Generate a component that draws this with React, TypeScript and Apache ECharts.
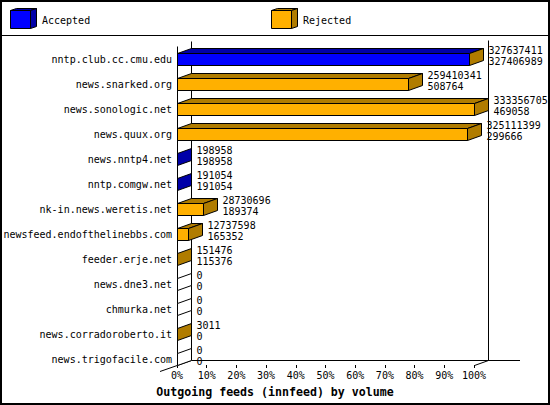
import React, { useEffect, useRef } from 'react';
import * as echarts from 'echarts';

// innfeed outgoing feeds: offered and accepted volume per peer
const hosts = [
  'nntp.club.cc.cmu.edu',
  'news.snarked.org',
  'news.sonologic.net',
  'news.quux.org',
  'news.nntp4.net',
  'nntp.comgw.net',
  'nk-in.news.weretis.net',
  'newsfeed.endofthelinebbs.com',
  'feeder.erje.net',
  'news.dne3.net',
  'chmurka.net',
  'news.corradoroberto.it',
  'news.trigofacile.com',
];
const offered = [
  327637411, 259410341, 333356705, 325111399, 198958, 191054, 28730696, 12737598, 151476, 0, 0, 3011, 0,
];
const accepted = [
  327406989, 508764, 469058, 299666, 198958, 191054, 189374, 165352, 115376, 0, 0, 0, 0,
];
const legendNames = ['Accepted', 'Rejected'];

const BLUE = '#0000ff';
const BLUE_DARK = '#0000a8';
const ORANGE = '#ffb000';
const ORANGE_DARK = '#b07c00';
const FONT = '"DejaVu Sans Mono", monospace';

// plot geometry (front plane and 3d depth)
const LEFT = 177;
const RIGHT = 474;
const TOP = 46.5;
const ROWS_H = 325;
const FLOOR = 365;
const DX = 14;
const DY = -5;
const HALF = 6;

const App = () => {
  const chartRef = useRef<HTMLDivElement>(null);

  useEffect(() => {
    if (!chartRef.current) return;
    document.body.style.margin = '0';
    const chart = echarts.init(chartRef.current, undefined, { renderer: 'svg' });

    const maxOff = Math.max(...offered);
    const data = hosts.map((_, i) => [
      i,
      (offered[i] / maxOff) * 100,
      (accepted[i] / maxOff) * 100,
      offered[i],
      accepted[i],
    ]);

    const line = (x1: number, y1: number, x2: number, y2: number) => ({
      type: 'line',
      z: 1,
      shape: { x1, y1, x2, y2 },
      style: { stroke: '#000', lineWidth: 1 },
    });

    const cube = (x: number, y: number, front: string, dark: string) => {
      const w = 20, h = 18, dx = 6, dy = -2;
      return [
        { type: 'rect', shape: { x, y, width: w, height: h }, style: { fill: front, stroke: '#000', lineWidth: 1 } },
        {
          type: 'polygon',
          shape: { points: [[x, y], [x + dx, y + dy], [x + w + dx, y + dy], [x + w, y]] },
          style: { fill: dark, stroke: '#000', lineWidth: 1 },
        },
        {
          type: 'polygon',
          shape: { points: [[x + w, y], [x + w + dx, y + dy], [x + w + dx, y + h + dy], [x + w, y + h]] },
          style: { fill: dark, stroke: '#000', lineWidth: 1 },
        },
      ];
    };

    const renderItem = (params: any, api: any) => {
      const i = api.value(0);
      const off = api.value(3);
      const acc = api.value(4);
      const [cx0, yc] = api.coord([0, i]);
      let x0 = Math.round(cx0) + 0.5;
      let xa = Math.round(api.coord([api.value(2), i])[0]) + 0.5;
      let xe = Math.round(api.coord([api.value(1), i])[0]) + 0.5;
      if (xa - x0 < 1) xa = x0;
      if (xe - xa < 1) xa = xe;
      const yt = Math.round(yc - HALF) + 0.5;
      const yb = yt + HALF * 2;
      const children: any[] = [];
      const seg = (xs: number, xf: number, front: string, dark: string) => {
        if (xf - xs < 1) return;
        children.push({
          type: 'rect',
          shape: { x: xs, y: yt, width: xf - xs, height: yb - yt },
          style: { fill: front, stroke: '#000', lineWidth: 1 },
        });
        children.push({
          type: 'polygon',
          shape: { points: [[xs, yt], [xs + DX, yt + DY], [xf + DX, yt + DY], [xf, yt]] },
          style: { fill: dark, stroke: '#000', lineWidth: 1 },
        });
      };
      seg(x0, xa, BLUE, BLUE_DARK);
      seg(xa, xe, ORANGE, ORANGE_DARK);
      const sideFill = off - acc > 0 ? ORANGE_DARK : acc > 0 ? BLUE_DARK : '#fff';
      children.push({
        type: 'polygon',
        shape: { points: [[xe, yt], [xe + DX, yt + DY], [xe + DX, yb + DY], [xe, yb]] },
        style: { fill: sideFill, stroke: '#000', lineWidth: 1 },
      });
      const tx = xe + DX + 5;
      children.push({
        type: 'text',
        style: { text: String(off), x: tx, y: yc - 8.5, align: 'left', verticalAlign: 'middle', font: `10px ${FONT}`, fill: '#000' },
      });
      children.push({
        type: 'text',
        style: { text: String(acc), x: tx, y: yc + 2.5, align: 'left', verticalAlign: 'middle', font: `10px ${FONT}`, fill: '#000' },
      });
      return { type: 'group', children };
    };

    const option: any = {
      animation: false,
      backgroundColor: '#fff',
      title: {
        text: 'Outgoing feeds (innfeed) by volume',
        left: 'center',
        top: 386,
        padding: 0,
        textStyle: { fontFamily: FONT, fontSize: 11.6, fontWeight: 'bold', color: '#000' },
      },
      grid: { left: LEFT, top: TOP, width: RIGHT - LEFT, height: ROWS_H, containLabel: false },
      xAxis: {
        type: 'value',
        min: 0,
        max: 100,
        interval: 10,
        offset: FLOOR - (TOP + ROWS_H),
        axisLine: { show: false },
        axisTick: { show: true, length: 3, lineStyle: { color: '#000', width: 1 } },
        axisLabel: { formatter: '{value}%', margin: 5, fontFamily: FONT, fontSize: 10, color: '#000' },
        splitLine: { show: false },
      },
      yAxis: {
        type: 'category',
        data: hosts,
        inverse: true,
        axisLine: { show: false },
        axisTick: { show: false },
        splitLine: { show: false },
        axisLabel: { margin: 5, fontFamily: FONT, fontSize: 10, color: '#000' },
      },
      graphic: [
        { type: 'rect', z: 1, shape: { x: 1, y: 1, width: 548, height: 403 }, style: { fill: 'none', stroke: '#000', lineWidth: 2 } },
        line(0, 35.5, 550, 35.5),
        ...cube(10.5, 10.5, BLUE, BLUE_DARK),
        { type: 'text', style: { text: legendNames[0], x: 42, y: 20, verticalAlign: 'middle', font: `10px ${FONT}`, fill: '#000' } },
        ...cube(271.5, 10.5, ORANGE, ORANGE_DARK),
        { type: 'text', style: { text: legendNames[1], x: 303, y: 20, verticalAlign: 'middle', font: `10px ${FONT}`, fill: '#000' } },
        // 3d frame: front wall edge, back wall, floor edges
        line(LEFT + 0.5, TOP, LEFT + 0.5, FLOOR + 0.5),
        line(LEFT + DX + 0.5, TOP + DY, LEFT + DX + 0.5, FLOOR + DY + 0.5),
        line(RIGHT + DX + 0.5, TOP + DY - 1, RIGHT + DX + 0.5, FLOOR + DY + 0.5),
        line(LEFT + DX + 0.5, FLOOR + DY + 0.5, 520, FLOOR + DY + 0.5),
        line(160, FLOOR + 6.5, LEFT + DX + 0.5, FLOOR + DY + 0.5),
        line(RIGHT + 0.5, FLOOR + 0.5, RIGHT + DX + 0.5, FLOOR + DY + 0.5),
      ],
      series: [
        {
          type: 'custom',
          clip: false,
          renderItem,
          encode: { x: [1, 2], y: 0 },
          data,
        },
      ],
    };

    chart.setOption(option);
    return () => {
      chart.dispose();
    };
  }, []);

  return <div ref={chartRef} style={{ width: '550px', height: '405px' }}></div>;
};

export default App;
